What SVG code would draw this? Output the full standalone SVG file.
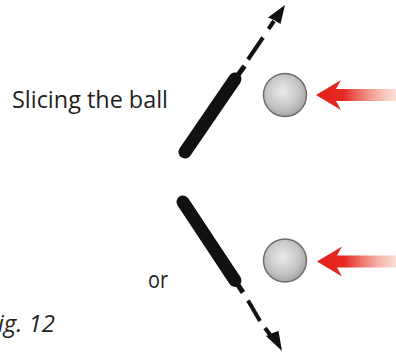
<svg xmlns="http://www.w3.org/2000/svg" width="396" height="353" viewBox="0 0 396 353">
<defs>
<radialGradient id="ballGrad" cx="0.45" cy="0.42" r="0.6">
<stop offset="0" stop-color="#ececec"/>
<stop offset="0.65" stop-color="#c4c4c4"/>
<stop offset="1" stop-color="#a2a2a2"/>
</radialGradient>
<linearGradient id="redGrad" x1="0" y1="0" x2="1" y2="0">
<stop offset="0" stop-color="#e3201b"/>
<stop offset="0.35" stop-color="#e52a22"/>
<stop offset="1" stop-color="#f3a48e" stop-opacity="0.35"/>
</linearGradient>
<path id="redArrow" d="M0,0 L25,-15 L20,-6 L80,-6 L80,6 L20,6 L25,15 Z"/>
</defs>
<style>
.txt{font-family:"Open Sans","Liberation Sans",sans-serif;fill:#231f20;}
.bat{stroke:#111;stroke-linecap:round;fill:none;}
.thick{stroke-width:13;}
.handle{stroke-width:5;stroke-linecap:butt;}
.dash{stroke:#111;stroke-width:4;fill:none;}
.head{fill:#111;}
.ball{fill:url(#ballGrad);stroke:#6a6a6a;stroke-width:1.4;}
.red{fill:url(#redGrad);}
</style>
<rect width="396" height="353" fill="#fff"/>
<g id="label-slicing"><text class="txt" x="12" y="108" font-size="24" textLength="156" lengthAdjust="spacingAndGlyphs">Slicing the ball</text></g>
<g id="label-or"><text class="txt" x="148" y="288" font-size="24" textLength="20" lengthAdjust="spacingAndGlyphs">or</text></g>
<g id="label-fig"><text class="txt" x="55" y="332" font-size="24" font-style="italic" text-anchor="end">Fig. 12</text></g>

<g id="bat-top">
<line class="bat thick" x1="185" y1="152" x2="235" y2="79"/>
<line class="bat handle" x1="233" y1="82" x2="244.5" y2="66"/>
</g>
<g id="bat-bottom">
<line class="bat thick" x1="183" y1="202" x2="235" y2="280.5"/>
<line class="bat handle" x1="233" y1="277.5" x2="243" y2="292.5"/>
</g>
<g id="ball-top"><circle class="ball" cx="285" cy="95" r="21.5"/></g>
<g id="ball-bottom"><circle class="ball" cx="285" cy="260.5" r="21.5"/></g>
<g id="force-top"><use href="#redArrow" class="red" transform="translate(316,95)"/></g>
<g id="force-bottom"><use href="#redArrow" class="red" transform="translate(317,261.5)"/></g>

<g id="connectors">
<line class="dash" x1="248" y1="59.5" x2="263" y2="37.5"/>
<line class="dash" x1="268.5" y1="29" x2="274" y2="21"/>
<polygon class="head" points="285,5 280.5,24 274,20 268,17.5"/>
<line class="dash" x1="248" y1="300.5" x2="260" y2="321"/>
<line class="dash" x1="265" y1="328" x2="271" y2="336"/>
<polygon class="head" points="282,351 266,336 272.5,333 278.5,331"/>
</g>
</svg>
